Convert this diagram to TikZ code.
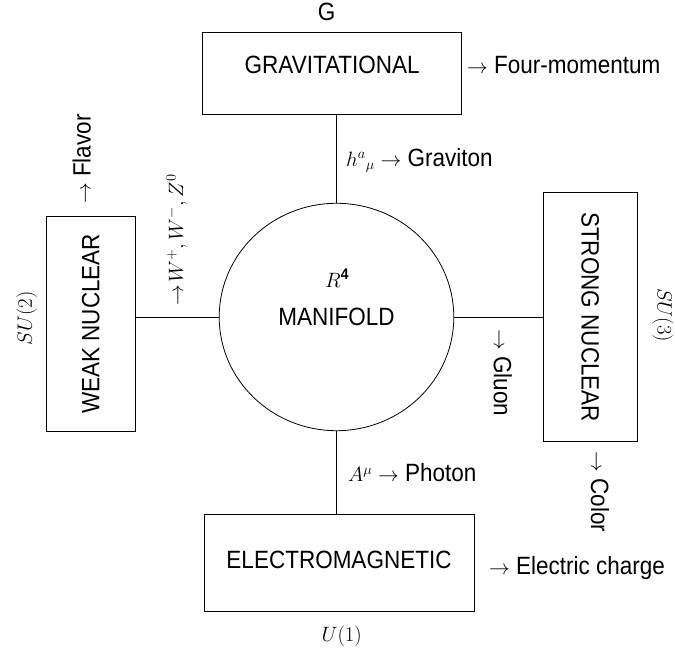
\documentclass[tikz,border=0pt]{standalone}
\usepackage{fontspec}
\setmainfont{Liberation Sans}[FakeStretch=0.9]
\usetikzlibrary{shapes.geometric}
\newcommand{\mt}[1]{{\fontsize{22}{26}\selectfont$#1$}}
\begin{document}
\begin{tikzpicture}[x=1pt,y=1pt,
  every node/.style={font=\fontsize{25}{29}\selectfont},
  box/.style={draw,line width=0.8pt,inner sep=0pt},
  lab/.style={inner sep=0pt},
  conn/.style={line width=0.8pt}]
\useasboundingbox (0,0) rectangle (675,656);
% boxes
\node[box,minimum width=259pt,minimum height=82pt] (grav) at (332.2,582.7) {\raisebox{16.6pt}{GRAVITATIONAL}};
\node[box,minimum width=270pt,minimum height=97.4pt] (elec) at (339,93) {\raisebox{6pt}{ELECTROMAGNETIC}};
\node[box,minimum width=214.3pt,minimum height=88.3pt,rotate=90] (weak) at (90.8,332.2) {WEAK NUCLEAR};
\node[box,minimum width=249pt,minimum height=94pt,rotate=-90] (strong) at (590.3,338.8) {STRONG NUCLEAR};
\node[box,ellipse,minimum width=234.6pt,minimum height=227.4pt] (man) at (336.5,339) {MANIFOLD};
% connectors
\draw[conn] (man.north) -- (man.north |- grav.south);
\draw[conn] (man.south) -- (man.south |- elec.north);
\draw[conn] (man.west) -- (man.west -| weak.south);
\draw[conn] (man.east) -- (man.east -| strong.south);
% labels
\node[lab] (g) at (326.7,644) {G};
\node[lab,anchor=west] (fourmom) at (467,591) {\mt{\rightarrow} Four-momentum};
\node[lab,anchor=west] (graviton) at (346,496) {\mt{h^{a}{}_{\mu}\rightarrow} Graviton};
\node[lab] (r4) at (337.5,378) {\mt{R^{\mathbf{4}}}};
\node[lab,rotate=90] (su2) at (26.7,337.7) {\mt{SU(2)}};
\node[lab,rotate=90] (flavor) at (81.7,497) {\mt{\rightarrow} Flavor};
\node[lab,rotate=90] (wlab) at (176.7,416) {\mt{\rightarrow\! W^{+}, W^{-}, Z^{0}}};
\node[lab,rotate=-90] (su3) at (662.7,341) {\mt{SU(3)}};
\node[lab,rotate=-90] (gluon) at (502.7,283) {\mt{\rightarrow} Gluon};
\node[lab,rotate=-90] (color) at (600,164.3) {\mt{\rightarrow} Color};
\node[lab,anchor=west] (photon) at (348,183) {\mt{A^{\mu}\rightarrow} Photon};
\node[lab,anchor=west] (echarge) at (489,88) {\mt{\rightarrow} Electric charge};
\node[lab] (u1) at (341.7,19.3) {\mt{U(1)}};
\end{tikzpicture}
\end{document}
